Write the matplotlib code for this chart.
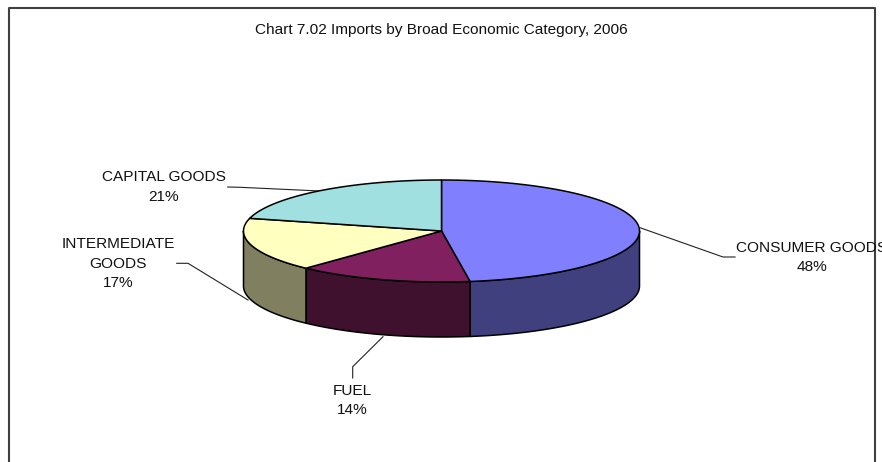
import numpy as np
import matplotlib
matplotlib.use('Agg')
import matplotlib.pyplot as plt

# data
categories = ['CONSUMER GOODS', 'FUEL', 'INTERMEDIATE\nGOODS', 'CAPITAL GOODS']
values = [47.7, 14.3, 17.0, 21.0]
top_colors = ['#8080ff', '#80205f', '#ffffc0', '#a0e0e0']
side_colors = ['#40407f', '#40102f', '#808060', '#507070']

# pie geometry, pixels
cx, cy = 441.5, 231
rx, ry = 198, 51
depth = 55

plt.rcParams['font.family'] = ['Liberation Sans', 'DejaVu Sans']

fig = plt.figure(figsize=(8.82, 4.62), dpi=100)
ax = fig.add_axes([0, 0, 1, 1])
ax.set_xlim(0, 882)
ax.set_ylim(462, 0)
ax.axis('off')


def arc(a0, a1, dy=0):
    t = np.radians(np.linspace(a0, a1, 200))
    return cx + rx * np.sin(t), cy + dy - ry * np.cos(t)


# outer frame, runs off the bottom of the page
ax.plot([9, 9, 875, 875], [465, 8, 8, 465], color='#404040', lw=1.5, zorder=1)

ax.text(441.5, 30, 'Chart 7.02 Imports by Broad Economic Category, 2006',
        ha='center', va='center', fontsize=11.1, color='#111111')

edges = np.concatenate([[0], np.cumsum(values)]) / np.sum(values) * 360

# side wall first, only the front half shows
for i in range(len(values)):
    a0 = max(edges[i], 90)
    a1 = min(edges[i + 1], 270)
    if a1 <= a0:
        continue
    x, y = arc(a0, a1)
    xb, yb = arc(a1, a0, depth)
    ax.fill(np.r_[x, xb], np.r_[y, yb], facecolor=side_colors[i],
            edgecolor='black', lw=1.1, zorder=2, joinstyle='round')

# top of the pie
for i in range(len(values)):
    x, y = arc(edges[i], edges[i + 1])
    ax.fill(np.r_[cx, x], np.r_[cy, y], facecolor=top_colors[i],
            edgecolor='black', lw=1.1, zorder=3, joinstyle='round')

# leader lines
leaders = [
    ([640, 723, 735], [227.7, 257, 257]),
    ([383, 352.7, 352.7], [336.7, 366.7, 378]),
    ([248, 188, 176.7], [300, 263.3, 263.3]),
    ([320, 240, 227.7], [191, 187.3, 187]),
]
for lx, ly in leaders:
    ax.plot(lx, ly, color='#222222', lw=0.8, zorder=1.5)

# labels
label_pos = [(811.7, 257.5), (352.7, 400.5), (118, 263.5), (163.5, 187)]
for cat, val, (lx, ly) in zip(categories, values, label_pos):
    ax.text(lx, ly, f'{cat}\n{val:.0f}%', ha='center', va='center',
            fontsize=11.1, color='#111111', linespacing=1.48, zorder=4)

fig.savefig('out.png', dpi=100)
